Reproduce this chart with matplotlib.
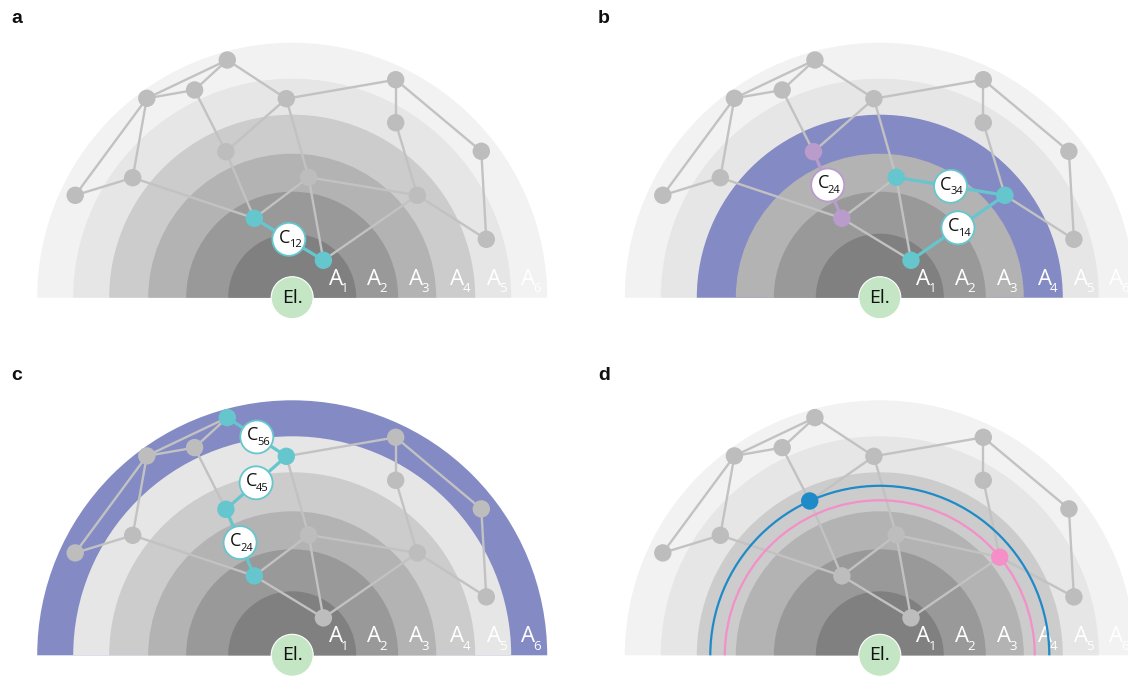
import matplotlib
matplotlib.use("Agg")
import matplotlib.pyplot as plt
import numpy as np
from matplotlib.patches import Wedge, Circle, Arc

# anneaux A1..A6 (rayons en px) et leurs gris
ring_r = [64, 106, 144, 183, 219, 255]
ring_gray = ["#808080", "#999999", "#b3b3b3", "#cccccc", "#e6e6e6", "#f2f2f2"]
ring_names = ["1", "2", "3", "4", "5", "6"]
label_dx = [43.5, 82, 124, 165, 201.5, 236]

# noeuds du réseau (dx, dy) par rapport au centre de l'électrode
nodes = [(-64.9, 237.7), (-145.4, 199.4), (-97.6, 207.7), (-5.9, 199.0),
         (103.5, 218.0), (103.5, 175.0), (189.1, 146.4), (-66.3, 146.0),
         (16.4, 120.4), (-159.5, 120.0), (-217.0, 102.4), (125.1, 102.4),
         (-37.9, 79.4), (31.2, 37.4), (194.1, 58.4)]
edges = [(1, 2), (1, 3), (2, 3), (1, 4), (4, 5), (5, 6), (5, 7), (7, 15),
         (6, 12), (12, 15), (2, 10), (2, 11), (10, 11), (10, 13), (3, 8),
         (4, 8), (8, 13), (4, 9), (9, 13), (9, 12), (9, 14), (13, 14), (14, 12)]

# panneaux : lettre, centre (px), anneau surligné, arêtes colorées
panels = ["a", "b", "c", "d"]
centers = [(292.2, 297.7), (879.8, 297.7), (292.2, 655.3), (879.8, 655.3)]
letter_pos = [(11, 22.7), (598, 22.7), (11, 380), (598, 380)]
ring_hl = [None, 3, 5, None]
hl_edges = [
    [(13, 14, "12", "cyan")],
    [(8, 13, "24", "purple"), (9, 12, "34", "cyan"), (14, 12, "14", "cyan")],
    [(1, 4, "56", "cyan"), (4, 8, "45", "cyan"), (8, 13, "24", "cyan")],
    [],
]
# panneau d : cercles et noeuds projetés dessus
circle_r = [169.5, 155]
circle_col = ["#1f8ac8", "#f48fc8"]
circle_node = [8, 12]

COL = {"cyan": "#66c6cd", "purple": "#b99ccb"}
BAND = "#848bc4"
NODE = "#bdbdbd"
EDGE = "#c2c2c2"
H = 677

fig = plt.figure(figsize=(11.28, 6.77), dpi=100)
ax = fig.add_axes([0, 0, 1, 1])
ax.set_xlim(0, 1128)
ax.set_ylim(0, H)
ax.axis("off")

font = ["Open Sans", "DejaVu Sans"]

for p, name in enumerate(panels):
    cx, cy = centers[p][0], H - centers[p][1]

    # anneaux
    for i in range(5, -1, -1):
        col = BAND if ring_hl[p] == i else ring_gray[i]
        ax.add_patch(Wedge((cx, cy), ring_r[i], 0, 180, facecolor=col,
                           edgecolor="none", zorder=1))

    # labels A_i
    for i in range(6):
        x = cx + label_dx[i]
        ax.text(x, cy + 18.5, "A", color="white", fontsize=16, family=font,
                ha="center", va="center", zorder=5)
        ax.text(x + 9, cy + 9, ring_names[i], color="white", fontsize=9.5,
                family=font, ha="center", va="center", zorder=5)

    pos = [(cx + dx, cy + dy) for dx, dy in nodes]
    node_col = [NODE] * len(nodes)

    if name == "d":
        for r, col, n in zip(circle_r, circle_col, circle_node):
            ax.add_patch(Arc((cx, cy), 2 * r, 2 * r, theta1=0, theta2=180,
                             color=col, lw=1.6, zorder=6))
            dx, dy = nodes[n - 1]
            a = np.arctan2(dy, dx)
            pos[n - 1] = (cx + r * np.cos(a), cy + r * np.sin(a))
            node_col[n - 1] = col

    hl_set = {(e[0], e[1]) for e in hl_edges[p]}
    for a, b in edges:
        if (a, b) in hl_set:
            continue
        ax.plot([pos[a - 1][0], pos[b - 1][0]], [pos[a - 1][1], pos[b - 1][1]],
                color=EDGE, lw=1.7, zorder=3, solid_capstyle="round")

    for a, b, sub, c in hl_edges[p]:
        ax.plot([pos[a - 1][0], pos[b - 1][0]], [pos[a - 1][1], pos[b - 1][1]],
                color=COL[c], lw=2.3, zorder=4)
        node_col[a - 1] = COL[c]
        node_col[b - 1] = COL[c]

    for (x, y), col in zip(pos, node_col):
        ax.add_patch(Circle((x, y), 8.7, facecolor=col, edgecolor="none", zorder=7))

    # étiquettes C_ij
    for a, b, sub, c in hl_edges[p]:
        mx = (pos[a - 1][0] + pos[b - 1][0]) / 2
        my = (pos[a - 1][1] + pos[b - 1][1]) / 2
        ax.add_patch(Circle((mx, my), 16.5, facecolor="white", edgecolor=COL[c],
                            lw=1.3, zorder=8))
        ax.text(mx - 4.5, my + 1.5, "C", fontsize=13, family=font, ha="center",
                va="center", zorder=9, color="#111111")
        ax.text(mx + 6.5, my - 5.5, sub, fontsize=8, family=font, ha="center",
                va="center", zorder=9, color="#111111")

    # électrode
    ax.add_patch(Circle((cx, cy), 21, facecolor="#c4e6c4", edgecolor="white",
                        lw=0.8, zorder=8))
    ax.text(cx, cy, "El.", fontsize=14, family=font, ha="center",
            va="center", zorder=9, color="#111111")

    lx, ly = letter_pos[p]
    ax.text(lx, H - ly, name, fontsize=14, fontweight="bold",
            family=["Liberation Sans", "DejaVu Sans"], ha="left",
            va="baseline", color="#111111")

fig.savefig("out.png", dpi=100)
